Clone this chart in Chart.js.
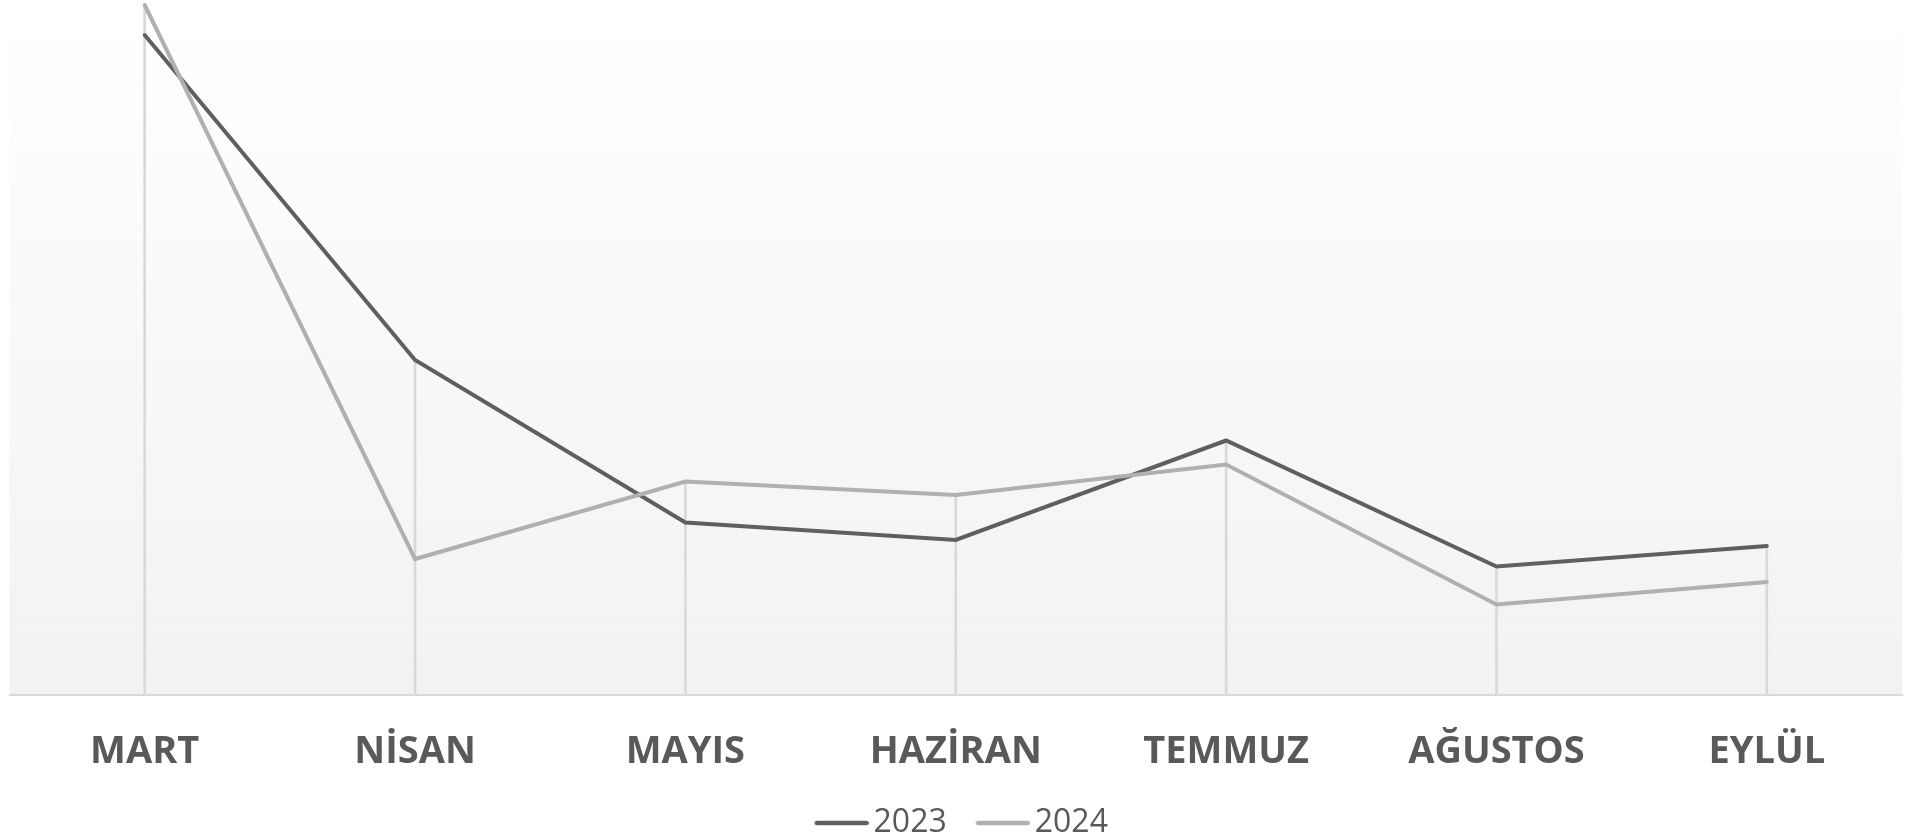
<!DOCTYPE html>
<html>
<head>
<meta charset="utf-8">
<script src="https://cdn.jsdelivr.net/npm/chart.js@4/dist/chart.umd.min.js"></script>
<style>
    html, body { margin: 0; padding: 0; background: #ffffff; }
    #wrap { width: 1907px; height: 838px; position: relative; }
</style>
</head>
<body>
<div id="wrap"><canvas id="chart"></canvas></div>
<script>
const months = ['MART', 'NİSAN', 'MAYIS', 'HAZİRAN', 'TEMMUZ', 'AĞUSTOS', 'EYLÜL'];
const values2023 = [659.5, 334.5, 172, 154.5, 254, 128, 148.5];
const values2024 = [689.5, 135.5, 213, 199.5, 230, 90, 112.5];
const seriesNames = ['2023', '2024'];
const seriesColors = ['#5f5f5f', '#b0b0b0'];

// dikey çizgiler: her ayda en yüksek noktadan eksene kadar
const dropLines = months.map((m, i) => Math.max(values2023[i], values2024[i]));

// lejant çizgisi (sağa yaslı, metne yakın dursun diye)
function legendLine(color) {
    const c = document.createElement('canvas');
    c.width = 76;
    c.height = 8;
    const g = c.getContext('2d');
    g.strokeStyle = color;
    g.lineWidth = 4.5;
    g.lineCap = 'round';
    g.beginPath();
    g.moveTo(24.25, 4);
    g.lineTo(73.75, 4);
    g.stroke();
    return c;
}
const legendMarkers = seriesColors.map(legendLine);

const plotBackground = {
    id: 'plotBackground',
    beforeDraw(chart) {
        const { ctx, chartArea: a } = chart;
        const grad = ctx.createLinearGradient(0, a.top, 0, a.bottom);
        grad.addColorStop(0, '#ffffff');
        grad.addColorStop(1, '#f2f2f2');
        ctx.save();
        ctx.fillStyle = grad;
        ctx.fillRect(a.left, a.top, a.right - a.left, a.bottom - a.top);
        ctx.restore();
    }
};

new Chart(document.getElementById('chart').getContext('2d'), {
    type: 'line',
    data: {
        labels: months,
        datasets: [{
            label: seriesNames[0],
            data: values2023,
            borderColor: seriesColors[0],
            backgroundColor: seriesColors[0],
            borderWidth: 4,
            borderCapStyle: 'round',
            pointRadius: 0,
            tension: 0,
            order: 1
        }, {
            label: seriesNames[1],
            data: values2024,
            borderColor: seriesColors[1],
            backgroundColor: seriesColors[1],
            borderWidth: 4,
            borderCapStyle: 'round',
            pointRadius: 0,
            tension: 0,
            order: 0
        }, {
            type: 'bar',
            label: 'drop',
            data: dropLines,
            backgroundColor: '#d9d9d9',
            barThickness: 2,
            order: 3
        }]
    },
    options: {
        responsive: true,
        maintainAspectRatio: false,
        animation: false,
        devicePixelRatio: 1,
        layout: {
            padding: { left: 9.5, right: 5, top: 0, bottom: -11 }
        },
        scales: {
            x: {
                offset: true,
                grid: { display: false, drawTicks: false },
                border: { display: true, color: '#d9d9d9', width: 2 },
                ticks: {
                    color: '#595959',
                    padding: 35,
                    maxRotation: 0,
                    font: { family: 'Open Sans', size: 38, weight: 'bold' }
                },
                afterFit: scale => { scale.height = 94.5; }
            },
            y: {
                display: false,
                min: 0,
                max: 694.5
            }
        },
        plugins: {
            legend: {
                position: 'bottom',
                labels: {
                    usePointStyle: true,
                    pointStyleWidth: 54,
                    padding: 18,
                    color: '#595959',
                    font: { family: 'Open Sans', size: 32 },
                    generateLabels: chart => Chart.defaults.plugins.legend.labels.generateLabels(chart)
                        .filter(item => item.datasetIndex < 2)
                        .map(item => ({ ...item, pointStyle: legendMarkers[item.datasetIndex] })),
                    sort: (a, b) => a.datasetIndex - b.datasetIndex
                }
            },
            tooltip: { enabled: false }
        }
    },
    plugins: [plotBackground]
});
</script>
</body>
</html>
